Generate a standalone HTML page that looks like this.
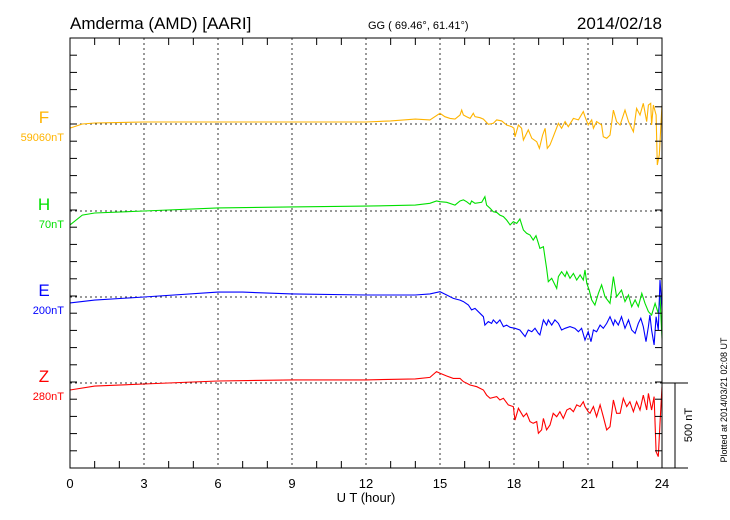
<!DOCTYPE html>
<html><head><meta charset="utf-8"><style>
body{margin:0;background:#fff}
svg{display:block;font-family:"Liberation Sans",sans-serif}
</style></head><body>
<svg id="chart" width="730" height="520" viewBox="0 0 730 520" xmlns="http://www.w3.org/2000/svg">
<rect width="730" height="520" fill="#fff"/>
<text x="70" y="29" font-size="17">Amderma (AMD)  [AARI]</text>
<text x="368" y="29" font-size="11">GG ( 69.46°,  61.41°)</text>
<text x="662" y="29" font-size="17" text-anchor="end">2014/02/18</text>
<g id="grid"></g>
<g id="series"></g>
<rect x="70" y="38" width="592" height="430" fill="none" stroke="#000" stroke-width="1"/>
<g id="axes"></g>
<text x="366" y="502" font-size="13" text-anchor="middle">U T (hour)</text>
<g stroke="#000" stroke-width="1">
<line x1="662" y1="383" x2="688" y2="383"/><line x1="662" y1="468" x2="688" y2="468"/><line x1="675" y1="383" x2="675" y2="468"/>
</g>
<text transform="translate(692,425) rotate(-90)" font-size="11" text-anchor="middle">500 nT</text>
<text transform="translate(727,400) rotate(-90)" font-size="9" text-anchor="middle">Plotted at 2014/03/21 02:08 UT</text>
</svg>
<script>
const xTicks=[0,3,6,9,12,15,18,21,24];
const labels=["F","H","E","Z"];
const baseLabels=["59060nT","70nT","200nT","280nT"];
const colors=["#ffb400","#00e000","#0000ff","#ff0000"];
const baselines=[124,211,297,383];
const fT=[0,0.5,1,3,6,9,12,13,14,14.59,15,15.2,15.41,15.61,15.81,15.88,15.95,16.08,16.22,16.35,16.42,16.62,16.76,16.96,17.16,17.3,17.5,17.7,17.91,18,18.04,18.18,18.31,18.38,18.58,18.72,18.92,19.03,19.16,19.26,19.35,19.46,19.59,19.8,19.93,20.07,20.2,20.41,20.61,20.81,20.88,21.01,21.15,21.22,21.35,21.55,21.62,21.76,21.89,22.03,22.16,22.3,22.5,22.64,22.84,22.97,23.11,23.24,23.38,23.45,23.54,23.58,23.65,23.76,23.81,23.89,24];
const fV=[-24,0,6,12,12,12,12,18,29,24,63,43,33,29,53,82,53,43,33,63,43,37,29,-2,4,24,18,-6,-16,-25,-75,-6,-25,-94,-35,-84,-104,-143,-65,-25,-143,-123,-75,4,-25,14,-16,33,24,73,43,-6,24,-25,14,-6,-75,-84,-65,82,14,-6,82,14,-45,92,53,122,14,112,122,-6,112,53,-241,-182,112];
const hT=[0,0.5,1,3,6,9,12,14,14.59,14.86,15,15.27,15.61,15.81,15.95,16.08,16.22,16.28,16.42,16.69,16.82,16.89,17.03,17.16,17.3,17.43,17.57,17.7,17.84,17.97,18.11,18.24,18.38,18.51,18.65,18.78,18.89,18.99,19.05,19.19,19.26,19.32,19.39,19.53,19.73,19.8,19.93,20.07,20.14,20.27,20.41,20.54,20.68,20.81,20.88,20.95,21.05,21.15,21.28,21.42,21.55,21.69,21.89,22.03,22.16,22.36,22.5,22.64,22.77,22.91,23.04,23.18,23.31,23.45,23.58,23.72,23.85,23.92,24];
const hV=[-82,-24,-12,0,18,24,29,35,45,59,55,51,35,59,65,55,39,59,45,51,84,35,16,-4,-8,-24,-33,-53,-82,-63,-73,-47,-112,-131,-141,-171,-145,-190,-220,-210,-278,-337,-416,-396,-455,-386,-357,-386,-357,-396,-367,-406,-376,-406,-347,-425,-465,-523,-553,-484,-435,-504,-543,-386,-504,-465,-533,-494,-563,-523,-563,-484,-543,-592,-612,-543,-602,-504,-749];
const eT=[0,1,3,6,7,9,12,14,14.59,15,15.27,15.54,15.81,15.95,16.15,16.28,16.42,16.62,16.76,16.82,16.96,17.09,17.16,17.3,17.43,17.57,17.7,17.84,18.04,18.24,18.45,18.58,18.72,18.85,18.99,19.05,19.19,19.32,19.39,19.53,19.66,19.8,19.93,20.07,20.27,20.47,20.61,20.74,20.88,21.01,21.12,21.22,21.35,21.49,21.62,21.76,21.89,22.03,22.09,22.23,22.36,22.5,22.64,22.77,22.91,23.04,23.14,23.24,23.35,23.45,23.51,23.58,23.68,23.76,23.85,23.92,24];
const eV=[-35,-18,0,29,29,18,12,12,18,31,12,-8,-18,-27,-47,-76,-67,-96,-116,-165,-145,-155,-135,-155,-135,-174,-165,-178,-184,-194,-233,-194,-204,-184,-214,-223,-135,-165,-135,-165,-135,-155,-194,-184,-174,-184,-204,-184,-253,-204,-263,-194,-204,-165,-184,-155,-116,-165,-135,-165,-116,-184,-135,-194,-214,-155,-125,-174,-263,-174,-106,-194,-282,-116,-194,100,-76];
const zT=[0,1,3,6,9,12,14,14.59,14.86,15,15.27,15.54,15.81,15.95,16.22,16.49,16.76,16.89,17.03,17.3,17.43,17.57,17.77,17.97,18.04,18.18,18.38,18.51,18.65,18.78,18.92,18.99,19.12,19.19,19.32,19.46,19.59,19.73,19.86,20,20.14,20.27,20.41,20.54,20.68,20.81,20.88,21.01,21.08,21.22,21.35,21.49,21.62,21.76,21.89,22.03,22.16,22.3,22.43,22.57,22.7,22.84,22.97,23.11,23.24,23.38,23.45,23.58,23.68,23.76,23.85,23.92,24];
const zV=[-41,-18,-6,12,18,18,24,33,67,57,41,27,27,8,-12,-22,-41,-71,-90,-80,-100,-90,-129,-139,-218,-149,-198,-178,-227,-237,-227,-296,-276,-208,-276,-247,-178,-198,-169,-208,-159,-149,-169,-129,-139,-110,-139,-169,-178,-139,-198,-129,-198,-276,-257,-100,-178,-178,-90,-139,-110,-169,-110,-159,-71,-159,-61,-159,-80,-404,-433,-237,-22];
const seriesT=[fT,hT,eT,zT], seriesV=[fV,hV,eV,zV];
const NS="http://www.w3.org/2000/svg";
const X0=70,X1=662,Y0=38,Y1=468;
const xs=t=>X0+(X1-X0)*t/24;
const ys=(v,b)=>b-v*85/500;
function mk(tag,attrs,parent){const e=document.createElementNS(NS,tag);for(const k in attrs)e.setAttribute(k,attrs[k]);parent.appendChild(e);return e;}
const grid=document.getElementById('grid'),axes=document.getElementById('axes'),ser=document.getElementById('series');
xTicks.forEach((t,i)=>{
  if(t>0&&t<24){const l=mk('line',{x1:xs(t),x2:xs(t),y1:Y0,y2:Y1,stroke:'#333','stroke-dasharray':'2,3'},grid);
  
  }
  const tx=mk('text',{x:xs(t),y:488,'font-size':13,'text-anchor':'middle'},axes);tx.textContent=t;
  
  
});
for(let h=1;h<24;h++){
  const len=h%3===0?0:7;
  if(len){mk('line',{x1:xs(h),x2:xs(h),y1:Y0,y2:Y0+len,stroke:'#000'},axes);mk('line',{x1:xs(h),x2:xs(h),y1:Y1,y2:Y1-len,stroke:'#000'},axes);}
}
for(let y=Y1;y>Y0+2;y-=17.2){
  mk('line',{x1:X0,x2:X0+7,y1:y,y2:y,stroke:'#000'},axes);
  mk('line',{x1:X1,x2:X1-7,y1:y,y2:y,stroke:'#000'},axes);
}
baselines.forEach((b,i)=>{
  const l=mk('line',{x1:X0,x2:X1,y1:b,y2:b,stroke:'#333','stroke-dasharray':'2,3'},grid);
  
  
  const t=mk('text',{x:44,y:b-1,'font-size':17,'text-anchor':'middle',fill:colors[i]},axes);t.textContent=labels[i];
  
  
  const t2=mk('text',{x:64,y:b+17,'font-size':11,'text-anchor':'end',fill:colors[i]},axes);t2.textContent=baseLabels[i];
  
  
  const pts=seriesT[i].map((t,j)=>xs(t).toFixed(1)+','+ys(seriesV[i][j],b).toFixed(1)).join(' ');
  const p=mk('polyline',{points:pts,fill:'none',stroke:colors[i],'stroke-width':1.1},ser);
  
  
});
</script>
</body></html>
